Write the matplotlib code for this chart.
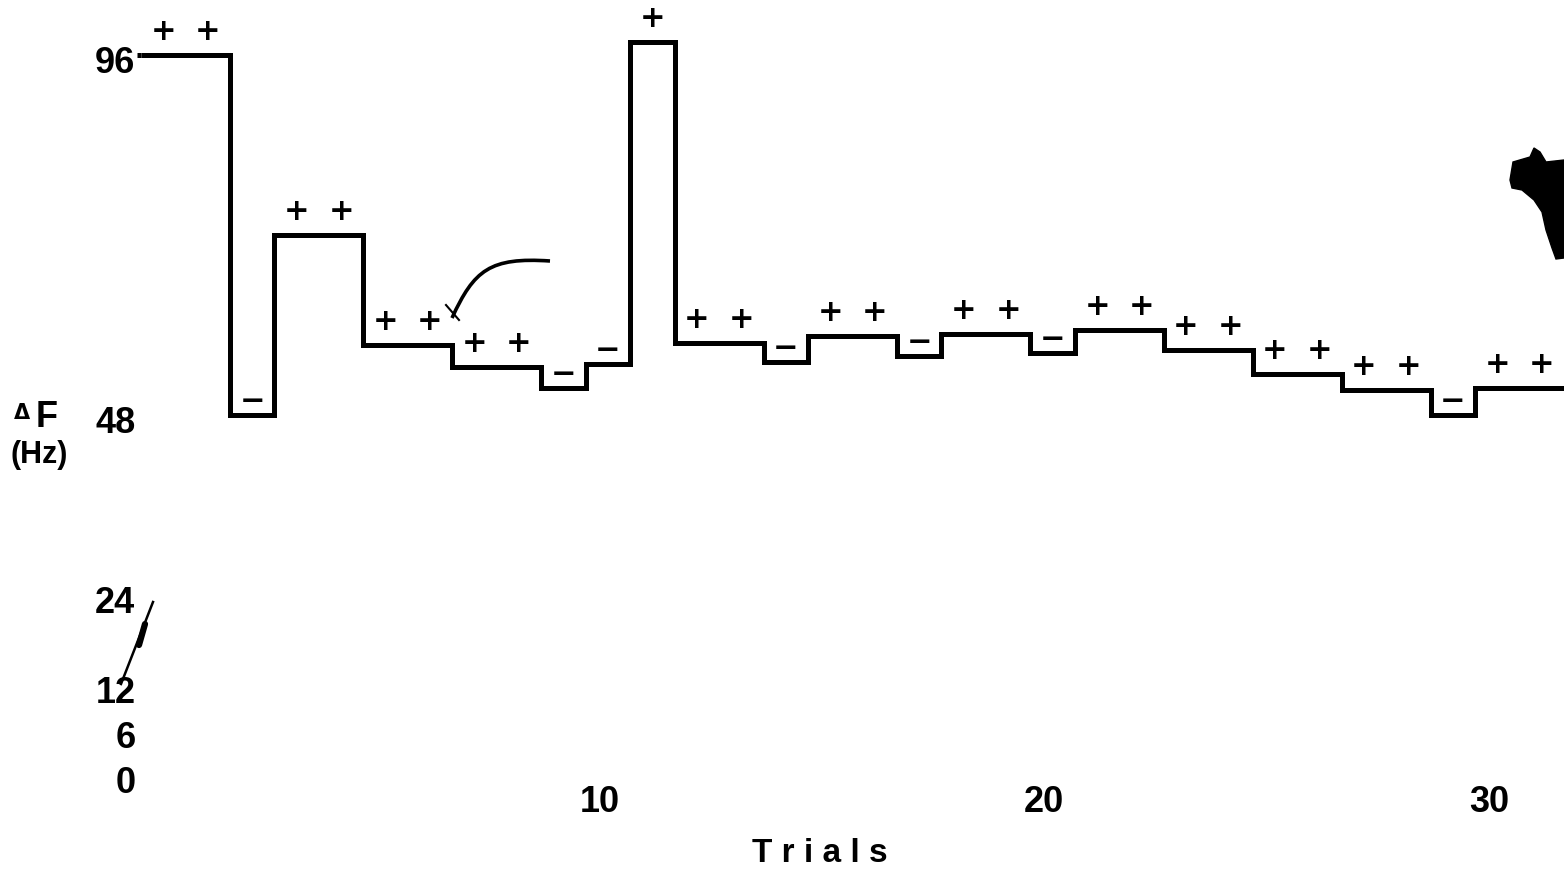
import numpy as np
import matplotlib
matplotlib.use("Agg")
import matplotlib.pyplot as plt
from matplotlib.path import Path
from matplotlib.patches import PathPatch, Polygon

# ---- data ----
trial_levels = [96, 96, 48, 72, 72, 57.3, 57.3, 54.4, 54.4, 51.6,
                54.8, 97.7, 57.6, 57.6, 55.1, 58.5, 58.5, 55.9, 58.8, 58.8,
                56.3, 59.3, 59.3, 56.7, 56.7, 53.5, 53.5, 51.3, 51.3, 48.0,
                51.6, 51.6]
responses = ['+', '+', '-', '+', '+', '+', '+', '+', '+', '-',
             '-', '+', '+', '+', '-', '+', '+', '-', '+', '+',
             '-', '+', '+', '+', '+', '+', '+', '+', '+', '-',
             '+', '+']
y_tick_values = [96, 48, 24, 12, 6, 0]
y_tick_labels = ['96', '48', '24', '12', '6', '0']
x_tick_values = [10, 20, 30]
x_tick_labels = ['10', '20', '30']
x_label = 'T r i a l s'
y_label_top = 'F'
y_label_unit = '(Hz)'

# ---- layout ----
W, H = 1564, 869
X0, PX_TRIAL = 141.0, 44.47
Y96, PX_HZ = 55.0, 7.5

fig = plt.figure(figsize=(W / 100, H / 100), dpi=100)
fig.patch.set_facecolor('white')
ax = fig.add_axes([0, 0, 1, 1])
ax.axis('off')
ax.set_xlim(-X0 / PX_TRIAL, (W - X0) / PX_TRIAL)
ax.set_ylim(96 - (H - Y96) / PX_HZ, 96 + Y96 / PX_HZ)

def pix(x, y):
    return (x / W, 1 - y / H)

LBL = dict(family='Liberation Sans', weight='bold', color='black')

# staircase
edges = np.arange(len(trial_levels) + 1)
ax.stairs(trial_levels, edges, baseline=None, color='black', lw=3.6,
          joinstyle='miter')
# small lead-in of the line toward the "96" label
ax.plot([edges[0] - 0.1, edges[0]], [trial_levels[0], trial_levels[0]],
        color='black', lw=3.6, solid_capstyle='butt')

# response symbols
for i, (lvl, r) in enumerate(zip(trial_levels, responses)):
    xc = i + 0.5
    if r == '+':
        ax.annotate('+', (xc, lvl), xytext=(0, 17), textcoords='offset points',
                    ha='center', va='center', fontsize=22,
                    family='DejaVu Sans', weight='bold')
    else:
        ax.annotate('\u2212', (xc, lvl), xytext=(0, 9.5), textcoords='offset points',
                    ha='center', va='center', fontsize=22,
                    family='DejaVu Sans', weight='bold')

# y tick labels
for v, t in zip(y_tick_values, y_tick_labels):
    ax.annotate(t, (0, v), xycoords=('figure fraction', 'data'),
                xytext=(97.5, -3.5), textcoords='offset points',
                ha='right', va='center_baseline', fontsize=26, **LBL)

# y axis label
fig.text(*pix(14, 419), '\u0394', ha='left', va='baseline', fontsize=15,
         family='DejaVu Sans', weight='bold')
fig.text(*pix(36, 427), y_label_top, ha='left', va='baseline', fontsize=26, **LBL)
fig.text(*pix(10, 463), y_label_unit, ha='left', va='baseline', fontsize=22, **LBL)

# x tick labels
for v, t in zip(x_tick_values, x_tick_labels):
    ax.annotate(t, (v, 0), xycoords=('data', 'figure fraction'),
                xytext=(10, (H - 798) * 0.72),
                textcoords='offset points', ha='center', va='center_baseline',
                fontsize=26, **LBL)

fig.text(*pix(820, 850), x_label, ha='center', va='center_baseline',
         fontsize=24, **LBL)

# hand-drawn annotations from the scan
verts = [pix(550, 261), pix(490, 257), pix(474, 270), pix(452, 318)]
fig.add_artist(PathPatch(Path(verts, [Path.MOVETO, Path.CURVE4, Path.CURVE4,
                                      Path.CURVE4]),
                         transform=fig.transFigure, fill=False, lw=2.6,
                         edgecolor='black'))
fig.add_artist(plt.Line2D(*zip(pix(446, 305), pix(459, 320)),
                          transform=fig.transFigure, color='black', lw=1.5))
fig.add_artist(plt.Line2D(*zip(pix(153, 602), pix(121, 684)),
                          transform=fig.transFigure, color='black', lw=1.8))
fig.add_artist(plt.Line2D(*zip(pix(145, 624), pix(139, 645)),
                          transform=fig.transFigure, color='black', lw=4.5,
                          solid_capstyle='round'))

# dark blotch on the right edge of the scan
blob = [pix(1510, 180), pix(1513, 162), pix(1530, 157), pix(1534, 148),
        pix(1540, 152), pix(1546, 162), pix(1564, 160), pix(1564, 258),
        pix(1556, 259), pix(1552, 248), pix(1546, 230), pix(1542, 212),
        pix(1534, 200), pix(1522, 190), pix(1512, 188)]
fig.add_artist(Polygon(blob, closed=True, transform=fig.transFigure,
                       facecolor='black', edgecolor='black'))

fig.savefig('out.png', dpi=100, facecolor='white')
